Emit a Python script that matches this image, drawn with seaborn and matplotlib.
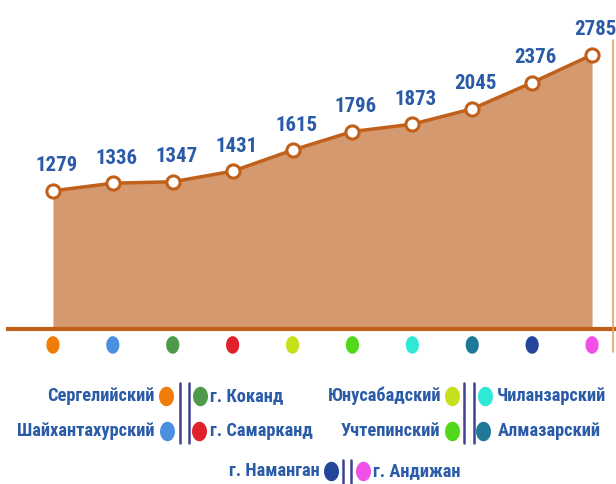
import matplotlib
matplotlib.use("Agg")
import matplotlib.pyplot as plt
from matplotlib.lines import Line2D
from matplotlib.path import Path
import seaborn as sns
import numpy as np
import pandas as pd

# data
districts = ["Сергелийский", "Шайхантахурский", "г. Коканд", "г. Самарканд",
             "Юнусабадский", "Учтепинский", "Чиланзарский", "Алмазарский",
             "г. Наманган", "г. Андижан"]
values = [1279, 1336, 1347, 1431, 1615, 1796, 1873, 2045, 2376, 2785]
dot_colors = ["#f07d0a", "#4a8fe0", "#4f9a4a", "#e0202a", "#c6e01c",
              "#50d81a", "#30e8d8", "#1f7898", "#23459a", "#f050e8"]

df = pd.DataFrame({"pos": range(len(values)), "value": values, "district": districts})

sns.set_style("white")
FONT = ["Roboto Condensed", "DejaVu Sans"]
plt.rcParams["font.family"] = FONT
TXT = "#2a5ba8"
LINE = "#c0601a"
FILL = "#d4996e"

# tall ellipse marker
t = np.linspace(0, 2 * np.pi, 40)
ellipse = Path(np.column_stack([0.75 * np.cos(t), np.sin(t)]), closed=True)

fig = plt.figure(figsize=(6.16, 4.84), dpi=100)
ax = fig.add_axes([8 / 616, (484 - 329) / 484, 608 / 616, 319 / 484])
ax.set_yscale("log")
ymin, ymax = 580, 3600

ax.fill_between(df["pos"], df["value"], ymin, color=FILL, lw=0, zorder=1)
sns.lineplot(data=df, x="pos", y="value", ax=ax, color=LINE, lw=2.5,
             marker="o", markersize=9.5, markerfacecolor="white",
             markeredgecolor=LINE, markeredgewidth=2.2, zorder=3)

for x, v in zip(df["pos"], df["value"]):
    ax.annotate(str(v), (x, v), xytext=(2.5, 18), textcoords="offset points",
                ha="center", va="center", fontsize=15, fontweight="bold",
                color=TXT, family=FONT)

# colored dots under the axis line
ax.scatter(df["pos"], [-0.05] * len(df), transform=ax.get_xaxis_transform(),
           c=dot_colors, s=160, marker=ellipse, lw=0, clip_on=False, zorder=4)

ax.set_xlim(-0.75, 9.4)
ax.set_ylim(ymin, ymax)
ax.set_xticks([])
ax.set_yticks([])
ax.minorticks_off()
ax.set_xlabel("")
ax.set_ylabel("")
for s in ["top", "left", "right"]:
    ax.spines[s].set_visible(False)
ax.spines["bottom"].set_color(LINE)
ax.spines["bottom"].set_linewidth(3)
ax.set_facecolor("none")

# thin line at the right edge
fig.add_artist(Line2D([613 / 616, 613 / 616], [1 - 40 / 484, 1 - 352 / 484],
                      color="#e8a060", lw=1.2))

# legend (pixel layout converted to figure fraction)
def fx(px):
    return px / 616

def fy(py):
    return 1 - py / 484

def label(x, y, s, ha):
    fig.text(fx(x), fy(y), s, ha=ha, va="center", fontsize=13.2,
             fontweight="bold", color=TXT, family=FONT)

def dot(x, y, c):
    fig.add_artist(Line2D([fx(x)], [fy(y)], marker=ellipse, markersize=13,
                          color=c, lw=0))

def bars(x1, x2, y1, y2):
    for x in (x1, x2):
        fig.add_artist(Line2D([fx(x), fx(x)], [fy(y1), fy(y2)],
                              color="#3e4290", lw=1.8))

r1, r2, r3 = 396, 431, 471
label(155, r1, districts[0], "right"); dot(166, r1, dot_colors[0])
label(155, r2, districts[1], "right"); dot(167, r2, dot_colors[1])
bars(180, 189, 383, 443)
dot(200, r1, dot_colors[2]); label(210, r1, districts[2], "left")
dot(199, r2, dot_colors[3]); label(210, r2, districts[3], "left")

label(441, r1, districts[4], "right"); dot(452, r1, dot_colors[4])
label(440, r2, districts[5], "right"); dot(452, r2, dot_colors[5])
bars(464, 474, 383, 443)
dot(485, r1, dot_colors[6]); label(497, r1, districts[6], "left")
dot(483, r2, dot_colors[7]); label(498, r2, districts[7], "left")

label(320, r3, districts[8], "right"); dot(331, r3, dot_colors[8])
bars(343, 351, 460, 483)
dot(363, r3, dot_colors[9]); label(373, r3, districts[9], "left")

fig.savefig("out.png", dpi=100, facecolor="white")
